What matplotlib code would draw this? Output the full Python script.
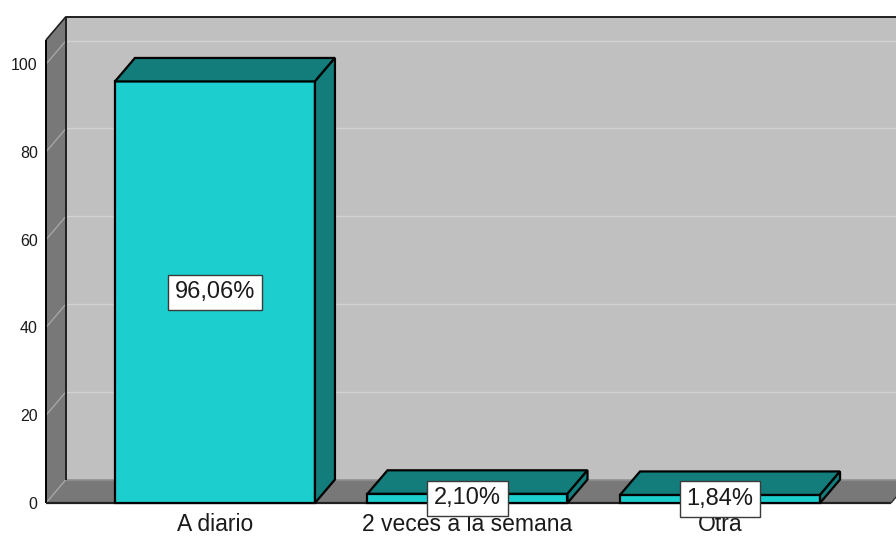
import matplotlib
matplotlib.use("Agg")
import matplotlib.pyplot as plt
from matplotlib.patches import Polygon

# data
categories = ["A diario", "2 veces a la semana", "Otra"]
percentages = [96.06, 2.10, 1.84]
value_labels = ["96,06%", "2,10%", "1,84%"]
y_ticks = [0, 20, 40, 60, 80, 100]

plt.rcParams['font.family'] = ['Liberation Sans', 'DejaVu Sans']

# colours
FRONT = "#1dcece"
SHADE = "#127d7b"
WALL = "#c0c0c0"
SIDE = "#787878"
TXT = "#1a1a1a"

fig = plt.figure(figsize=(8.96, 5.37), dpi=100)
ax = fig.add_axes([46 / 896, (537 - 503) / 537, 845 / 896, 463 / 537])

xl, xr = -0.669, 2.677
ymax = 105.5
dx, dy = 0.0792, 5.35   # depth of the 3d box in data units
bw = 0.792

ax.set_xlim(xl, xr)
ax.set_ylim(0, ymax)
for s in ax.spines.values():
    s.set_visible(False)
ax.patch.set_visible(False)

def poly(pts, fc, ec="none", lw=0, z=1):
    ax.add_patch(Polygon(pts, closed=True, facecolor=fc, edgecolor=ec,
                         linewidth=lw, zorder=z, clip_on=False, joinstyle="miter"))

def line(xs, ys, c, lw, z):
    ax.plot(xs, ys, color=c, lw=lw, zorder=z, clip_on=False, solid_capstyle="butt")

# walls and floor
poly([(xl + dx, dy), (xr + dx + 1, dy), (xr + dx + 1, ymax + dy), (xl + dx, ymax + dy)], WALL, z=0)
poly([(xl, 0), (xl + dx, dy), (xl + dx, ymax + dy), (xl, ymax)], SIDE, z=1)
poly([(xl, 0), (xr, 0), (xr + dx, dy), (xl + dx, dy)], SIDE, z=1)

# grid lines
for v in y_ticks:
    if v > 0:
        line([xl + dx, xr + dx + 1], [v + dy, v + dy], "#d2d2d2", 1.0, 1.5)
    line([xl, xl + dx], [v, v + dy], "#a6a6a6", 1.0, 1.5)
line([xl + dx, xr + dx], [dy, dy], "#8a8a8a", 1.0, 1.5)

# frame edges
line([xl, xl], [0, ymax], "black", 1.4, 2)
line([xl + dx, xl + dx], [dy, ymax + dy], "#202020", 1.4, 2)
line([xl, xl + dx], [ymax, ymax + dy], "#202020", 1.2, 2)
line([xl + dx, xr + dx + 1], [ymax + dy, ymax + dy], "#202020", 1.4, 2)
line([xl, xr], [0, 0], "#202020", 1.6, 2)
line([xr, xr + dx], [0, dy], "#303030", 1.0, 2)

# bars
for i, h in enumerate(percentages):
    x0, x1 = i - bw / 2, i + bw / 2
    poly([(x0, 0), (x1, 0), (x1, h), (x0, h)], FRONT, "black", 1.6, 3)
    poly([(x0, h), (x1, h), (x1 + dx, h + dy), (x0 + dx, h + dy)], SHADE, "black", 1.6, 3)
    poly([(x1, 0), (x1 + dx, dy), (x1 + dx, h + dy), (x1, h)], SHADE, "black", 1.6, 3)
    ax.text(i, h / 2, value_labels[i], ha="center", va="center", fontsize=17,
            color=TXT, zorder=5,
            bbox=dict(boxstyle="square,pad=0.28", fc="white", ec="#3a3a3a", lw=1.0))

ax.set_xticks(range(len(categories)))
ax.set_xticklabels(categories, fontsize=16.5, color=TXT)
ax.set_yticks(y_ticks)
ax.set_yticklabels([str(t) for t in y_ticks], fontsize=11.5, color=TXT)
ax.tick_params(axis="x", length=0, pad=7)
ax.tick_params(axis="y", length=0, pad=6)

fig.savefig("out.png", dpi=100, facecolor="white")
